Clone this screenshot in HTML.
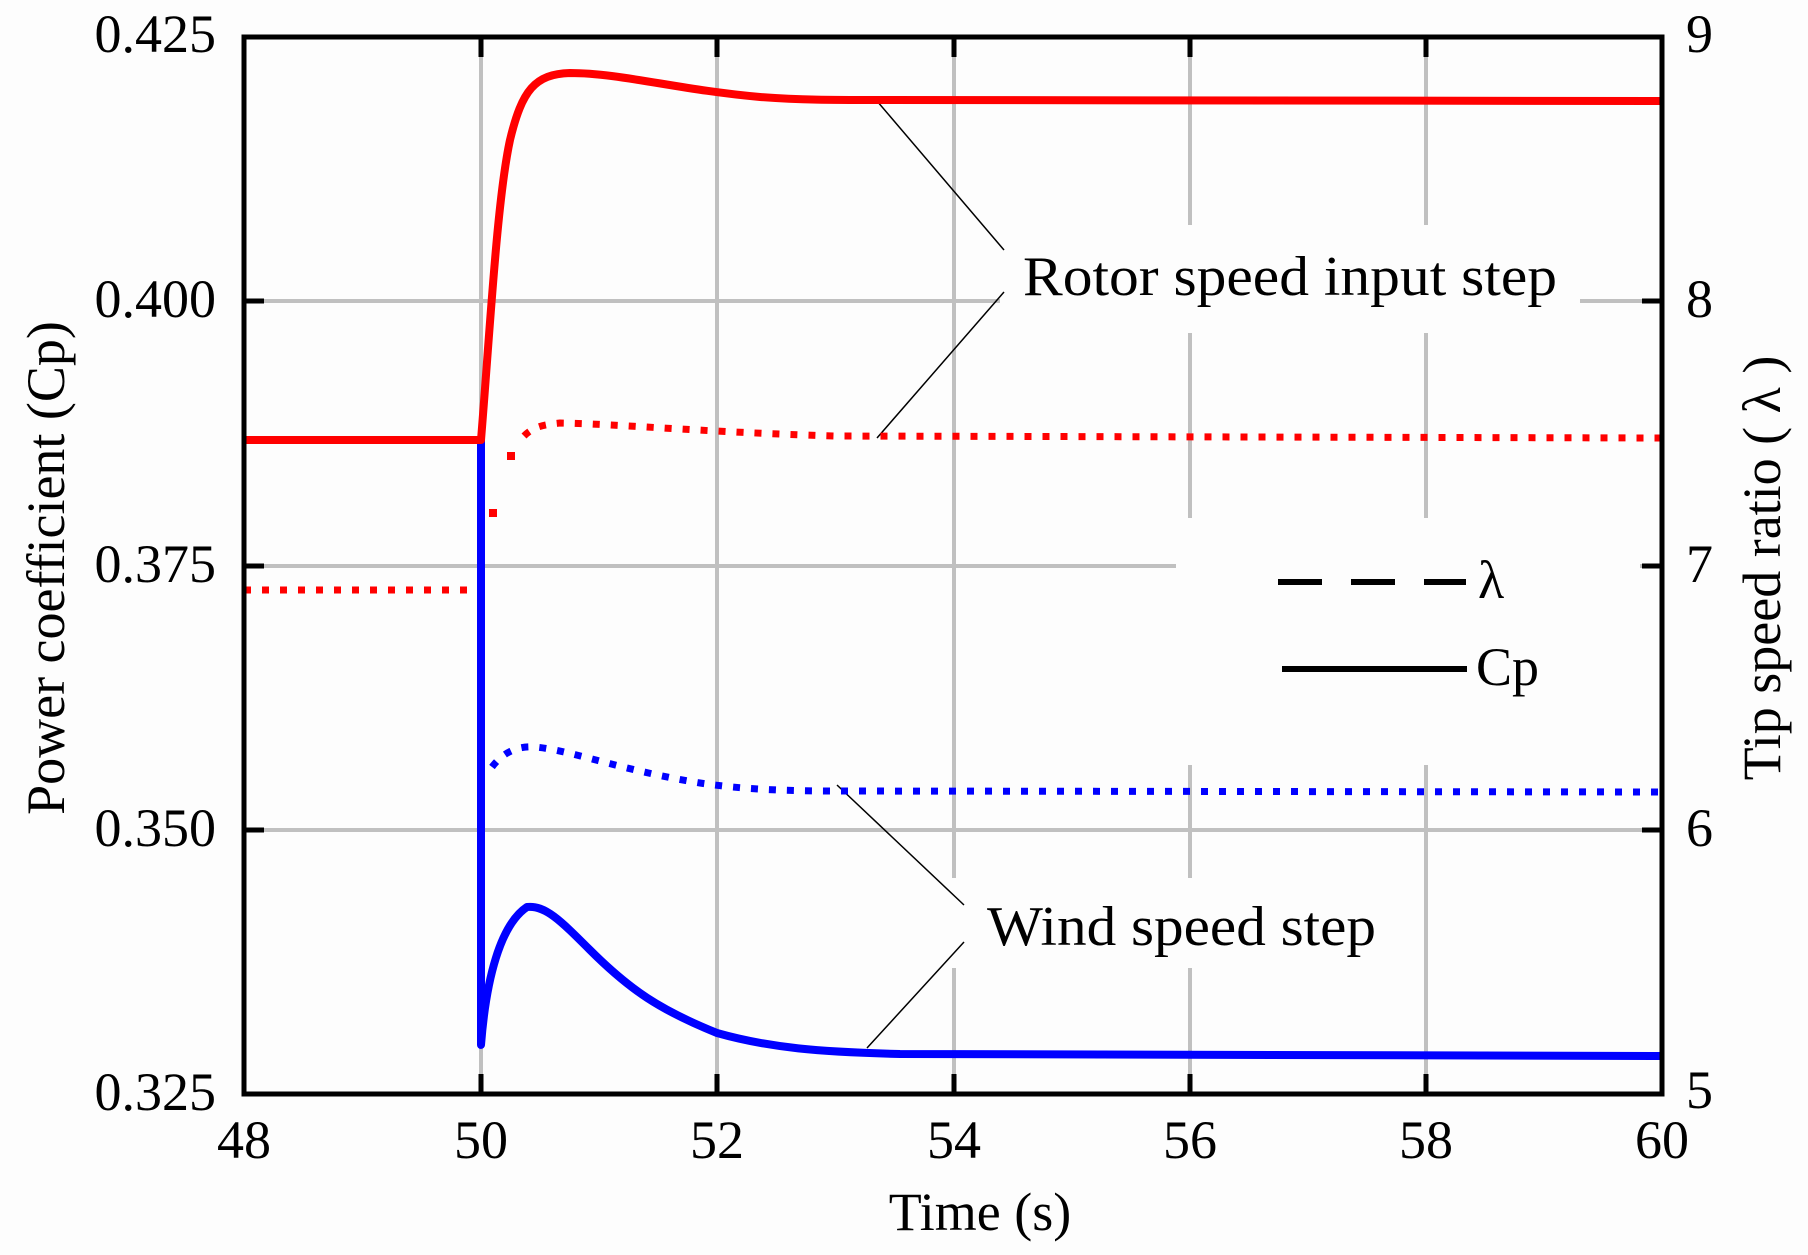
<!DOCTYPE html>
<html><head><meta charset="utf-8"><style>
html,body{margin:0;padding:0;background:#fdfdfd;}
svg{display:block;}
text{font-family:"Liberation Serif","Times New Roman",serif;fill:#000;}
</style></head><body>
<svg width="1808" height="1255" viewBox="0 0 1808 1255" xmlns="http://www.w3.org/2000/svg">
<rect width="1808" height="1255" fill="#fdfdfd"/>
<g stroke="#c0c0c0" stroke-width="4">
<line x1="481" y1="37" x2="481" y2="1094"/>
<line x1="717" y1="37" x2="717" y2="1094"/>
<line x1="954" y1="37" x2="954" y2="1094"/>
<line x1="1190" y1="37" x2="1190" y2="1094"/>
<line x1="1426" y1="37" x2="1426" y2="1094"/>
<line x1="244" y1="301" x2="1662" y2="301"/>
<line x1="244" y1="566" x2="1662" y2="566"/>
<line x1="244" y1="830" x2="1662" y2="830"/>
</g>
<g fill="#fdfdfd">
<rect x="1000" y="225" width="580" height="108"/>
<rect x="1176" y="518" width="464" height="247"/>
<rect x="950" y="878" width="440" height="90"/>
</g>
<g stroke="#000" stroke-width="1.5" fill="none">
<line x1="877" y1="101" x2="1004" y2="250"/>
<line x1="877" y1="438" x2="1004" y2="292"/>
<line x1="837" y1="785" x2="964" y2="905"/>
<line x1="867" y1="1048" x2="964" y2="942"/>
</g>
<g fill="none" stroke-linejoin="round">
<path d="M244,590 L478,590" stroke="#ff0000" stroke-width="7" stroke-dasharray="7 11"/>
<rect x="489" y="509" width="8" height="8" fill="#ff0000" stroke="none"/>
<rect x="507" y="452" width="8" height="8" fill="#ff0000" stroke="none"/>
<path d="M524,436 C532,428 540,425 560,423 C620,424 700,432 835,436 L1662,438" stroke="#ff0000" stroke-width="7" stroke-dasharray="7 11"/>
<path d="M492,767 C505,750 520,746 535,747 C570,750 620,770 700,783 C740,789 780,791 840,791 L1662,792" stroke="#0000ff" stroke-width="7" stroke-dasharray="7 11"/>
<path d="M481,440 L481,1045 C486,980 500,925 527,907 C545,905 560,920 590,950 C630,990 660,1010 717,1033 C770,1048 820,1052 900,1054 L1662,1056" stroke="#0000ff" stroke-width="8"/>
<path d="M244,440 L481,440 C490,330 497,200 510,140 C522,90 535,74 570,73 C620,73 680,90 760,97 C800,100 830,100 880,100 L1662,101" stroke="#ff0000" stroke-width="8"/>
</g>
<rect x="244" y="37" width="1418" height="1057" fill="none" stroke="#000" stroke-width="5"/>
<g stroke="#000" stroke-width="5">
<line x1="481" y1="1094" x2="481" y2="1074"/><line x1="717" y1="1094" x2="717" y2="1074"/>
<line x1="954" y1="1094" x2="954" y2="1074"/><line x1="1190" y1="1094" x2="1190" y2="1074"/>
<line x1="1426" y1="1094" x2="1426" y2="1074"/>
<line x1="481" y1="37" x2="481" y2="57"/><line x1="717" y1="37" x2="717" y2="57"/>
<line x1="954" y1="37" x2="954" y2="57"/><line x1="1190" y1="37" x2="1190" y2="57"/>
<line x1="1426" y1="37" x2="1426" y2="57"/>
<line x1="244" y1="301" x2="264" y2="301"/><line x1="244" y1="566" x2="264" y2="566"/><line x1="244" y1="830" x2="264" y2="830"/>
<line x1="1662" y1="301" x2="1642" y2="301"/><line x1="1662" y1="566" x2="1642" y2="566"/><line x1="1662" y1="830" x2="1642" y2="830"/>
</g>
<g font-size="54" text-anchor="end">
<text x="216" y="52">0.425</text>
<text x="216" y="317">0.400</text>
<text x="216" y="582">0.375</text>
<text x="216" y="846">0.350</text>
<text x="216" y="1110">0.325</text>
</g>
<g font-size="54" text-anchor="start">
<text x="1686" y="52">9</text>
<text x="1686" y="317">8</text>
<text x="1686" y="582">7</text>
<text x="1686" y="846">6</text>
<text x="1686" y="1108">5</text>
</g>
<g font-size="54" text-anchor="middle">
<text x="244" y="1158">48</text>
<text x="481" y="1158">50</text>
<text x="717" y="1158">52</text>
<text x="954" y="1158">54</text>
<text x="1190" y="1158">56</text>
<text x="1426" y="1158">58</text>
<text x="1662" y="1158">60</text>
</g>
<text x="980" y="1230" font-size="54" text-anchor="middle">Time (s)</text>
<text transform="translate(64,568) rotate(-90)" font-size="54" text-anchor="middle">Power coefficient (Cp)</text>
<text transform="translate(1780,568) rotate(-90)" font-size="54" text-anchor="middle">Tip speed ratio ( λ )</text>
<text x="1023" y="295" font-size="56" textLength="534" lengthAdjust="spacingAndGlyphs">Rotor speed input step</text>
<text x="987" y="945" font-size="56" textLength="389" lengthAdjust="spacingAndGlyphs">Wind speed step</text>
<line x1="1278" y1="582" x2="1466" y2="582" stroke="#000" stroke-width="6" stroke-dasharray="44 29"/>
<text x="1478" y="598" font-size="54">λ</text>
<line x1="1282" y1="669" x2="1467" y2="669" stroke="#000" stroke-width="6"/>
<text x="1476" y="685" font-size="54">Cp</text>
</svg>
</body></html>
